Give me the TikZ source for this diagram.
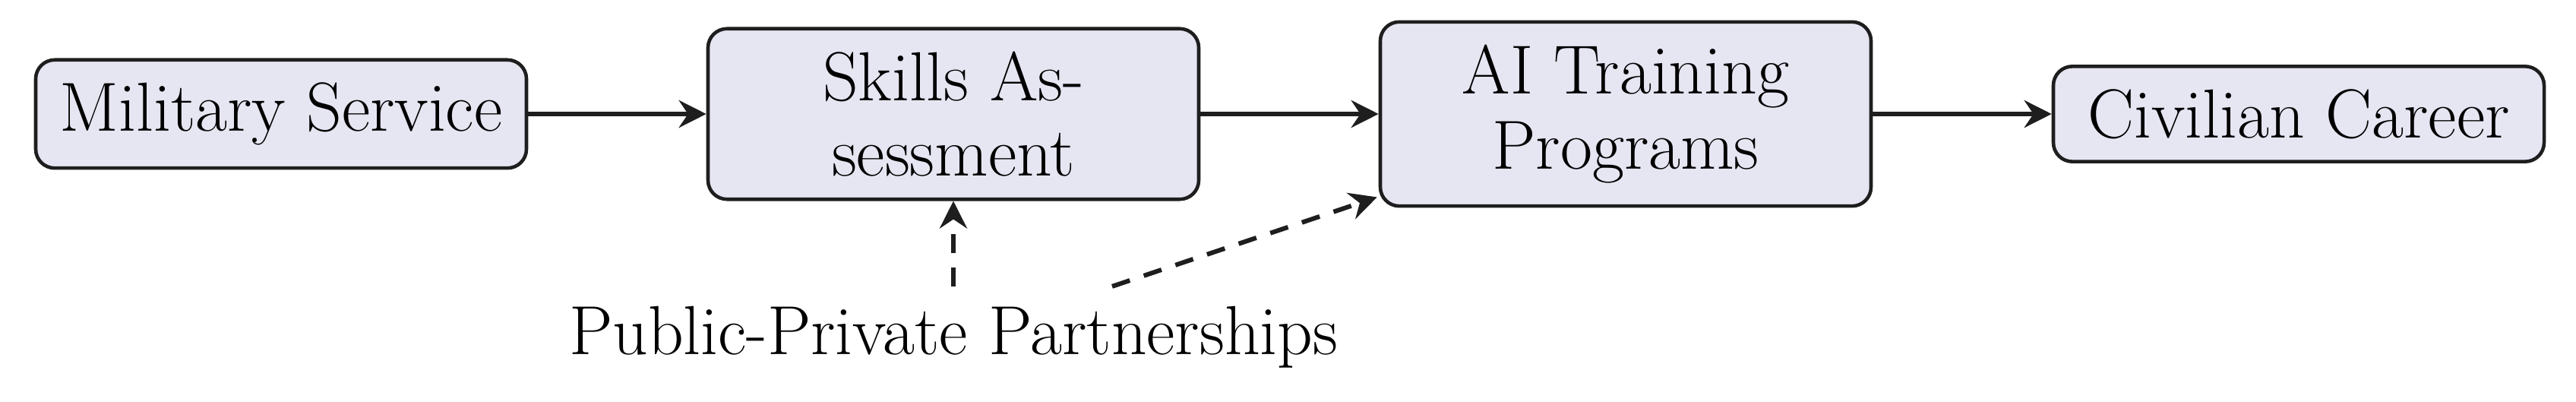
\documentclass[tikz,border=0pt]{standalone}
\usetikzlibrary{arrows.meta,calc}
\definecolor{boxfill}{RGB}{230,229,242}
\definecolor{edge}{RGB}{30,30,30}
\begin{document}
\begin{tikzpicture}[
  font=\fontsize{26}{28.2}\selectfont,
  flowbox/.style={draw=edge,fill=boxfill,line width=1.3pt,rounded corners=0.25cm,
    minimum width=6.46cm,align=center,inner ysep=0.30cm,inner xsep=0.2cm},
  flowarrow/.style={draw=edge,line width=1.7pt,-{Stealth[length=0.36cm,width=0.36cm,inset=0.12cm]}},
  dasharrow/.style={flowarrow,dash pattern=on 7pt off 5.5pt}
]
\useasboundingbox (0,0) rectangle (33.91,-5.29);
\node[flowbox] (mil) at (3.70,-1.50) {Military Service};
\node[flowbox] (ska) at (12.55,-1.50) {Skills As-\\sessment};
\node[flowbox] (ait) at (21.40,-1.50) {AI Training\\Programs};
\node[flowbox] (civ) at (30.26,-1.50) {Civilian Career};
\node[anchor=base,inner sep=0.26cm] (ppp) at (12.55,-4.67) {Public-Private Partnerships};
\draw[flowarrow] (mil) -- (ska);
\draw[flowarrow] (ska) -- (ait);
\draw[flowarrow] (ait) -- (civ);
\draw[dasharrow] (ppp.north) -- (ska.south);
\draw[dasharrow] ([xshift=2.09cm]ppp.north) -- ([xshift=-0.02cm,yshift=0.14cm]ait.south west);
\end{tikzpicture}
\end{document}
